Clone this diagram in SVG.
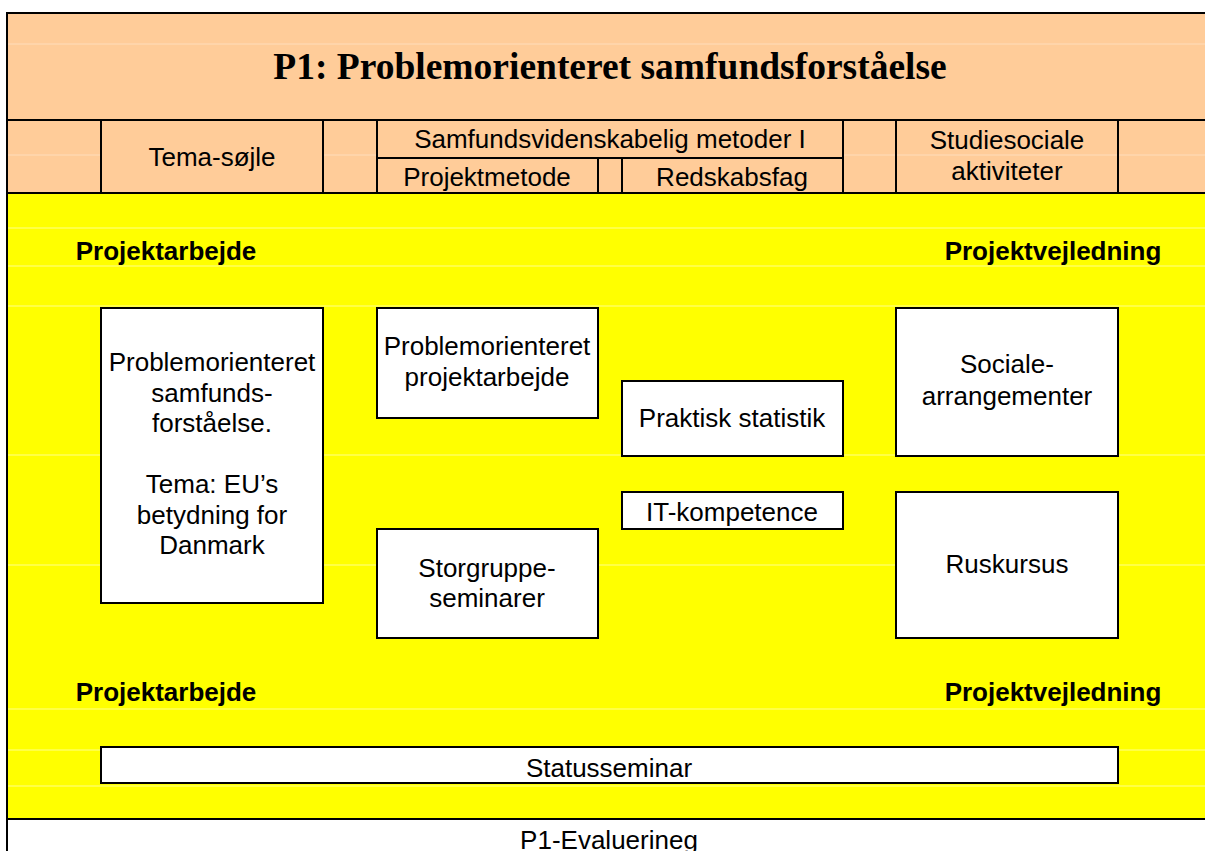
<svg xmlns="http://www.w3.org/2000/svg" width="1205" height="851" viewBox="0 0 1205 851">
<style>
.t{font-family:"Liberation Sans",Arial,sans-serif;font-size:26px;fill:#000;text-anchor:middle}
.b{font-family:"Liberation Sans",Arial,sans-serif;font-size:26px;font-weight:bold;fill:#000;text-anchor:middle}
.title{font-family:"Liberation Serif","Times New Roman",serif;font-size:37.5px;font-weight:bold;fill:#000;text-anchor:middle}
.box{fill:#fff;stroke:#000;stroke-width:2}
.ln{stroke:#000;stroke-width:2;fill:none}
.gp{stroke:#FFDDBB;stroke-width:1}
.gy{stroke:#FFFF8C;stroke-width:1}
</style>
<rect x="0" y="0" width="1205" height="851" fill="#fff"/>
<g id="background">
<rect x="7" y="13" width="1198" height="181" fill="#FFCC99"/>
<rect x="7" y="194" width="1198" height="625" fill="#FFFF00"/>
<line class="gp" x1="8" y1="44" x2="1205" y2="44"/>
<line class="gp" x1="8" y1="155" x2="101" y2="155"/>
<line class="gp" x1="323" y1="155" x2="377" y2="155"/>
<line class="gp" x1="843" y1="155" x2="1205" y2="155"/>
<line class="gy" x1="8" y1="228" x2="1205" y2="228"/>
<line class="gy" x1="8" y1="266" x2="1205" y2="266"/>
<line class="gy" x1="8" y1="306" x2="1205" y2="306"/>
<line class="gy" x1="8" y1="455" x2="1205" y2="455"/>
<line class="gy" x1="8" y1="565" x2="1205" y2="565"/>
<line class="gy" x1="8" y1="709" x2="1205" y2="709"/>
<line class="gy" x1="8" y1="750" x2="1205" y2="750"/>
<line class="gy" x1="8" y1="786" x2="1205" y2="786"/>
</g>
<g id="frame">
<line class="ln" x1="7" y1="13" x2="7" y2="851"/>
<line class="ln" x1="6" y1="13" x2="1205" y2="13"/>
<line class="ln" x1="7" y1="120" x2="1205" y2="120"/>
<line class="ln" x1="7" y1="193" x2="1205" y2="193"/>
<line class="ln" x1="7" y1="819" x2="1205" y2="819"/>
<line class="ln" x1="101" y1="120" x2="101" y2="194"/>
<line class="ln" x1="323" y1="120" x2="323" y2="194"/>
<line class="ln" x1="377" y1="120" x2="377" y2="194"/>
<line class="ln" x1="843" y1="120" x2="843" y2="194"/>
<line class="ln" x1="896" y1="120" x2="896" y2="194"/>
<line class="ln" x1="1118" y1="120" x2="1118" y2="194"/>
<line class="ln" x1="377" y1="158" x2="843" y2="158"/>
<line class="ln" x1="598" y1="158" x2="598" y2="194"/>
<line class="ln" x1="622" y1="158" x2="622" y2="194"/>
</g>
<g id="title"><text class="title" x="610" y="79">P1: Problemorienteret samfundsforståelse</text></g>
<g id="header-tema"><text class="t" x="212" y="166">Tema-søjle</text></g>
<g id="header-metoder"><text class="t" x="610" y="148">Samfundsvidenskabelig metoder I</text></g>
<g id="header-projektmetode"><text class="t" x="487" y="186">Projektmetode</text></g>
<g id="header-redskabsfag"><text class="t" x="732" y="186">Redskabsfag</text></g>
<g id="header-studiesociale"><text class="t" x="1007" y="149">Studiesociale</text><text class="t" x="1007" y="180">aktiviteter</text></g>
<g id="label-projektarbejde-1"><text class="b" x="166" y="260">Projektarbejde</text></g>
<g id="label-projektvejledning-1"><text class="b" x="1053" y="260">Projektvejledning</text></g>
<g id="label-projektarbejde-2"><text class="b" x="166" y="701">Projektarbejde</text></g>
<g id="label-projektvejledning-2"><text class="b" x="1053" y="701">Projektvejledning</text></g>
<g id="node-samfundsforstaaelse">
<rect class="box" x="101" y="308" width="222" height="295"/>
<text class="t" x="212" y="371">Problemorienteret</text>
<text class="t" x="212" y="401.5">samfunds-</text>
<text class="t" x="212" y="432">forståelse.</text>
<text class="t" x="212" y="493">Tema: EU’s</text>
<text class="t" x="212" y="523.5">betydning for</text>
<text class="t" x="212" y="554">Danmark</text>
</g>
<g id="node-projektarbejde">
<rect class="box" x="377" y="308" width="221" height="110"/>
<text class="t" x="487" y="355">Problemorienteret</text>
<text class="t" x="487" y="386">projektarbejde</text>
</g>
<g id="node-storgruppe">
<rect class="box" x="377" y="529" width="221" height="109"/>
<text class="t" x="487" y="577">Storgruppe-</text>
<text class="t" x="487" y="607">seminarer</text>
</g>
<g id="node-statistik">
<rect class="box" x="622" y="381" width="221" height="75"/>
<text class="t" x="732" y="427">Praktisk statistik</text>
</g>
<g id="node-it">
<rect class="box" x="622" y="492" width="221" height="37"/>
<text class="t" x="732" y="521">IT-kompetence</text>
</g>
<g id="node-sociale">
<rect class="box" x="896" y="308" width="222" height="148"/>
<text class="t" x="1007" y="373">Sociale-</text>
<text class="t" x="1007" y="405">arrangementer</text>
</g>
<g id="node-ruskursus">
<rect class="box" x="896" y="492" width="222" height="146"/>
<text class="t" x="1007" y="573">Ruskursus</text>
</g>
<g id="node-statusseminar">
<rect class="box" x="101" y="747" width="1017" height="36"/>
<text class="t" x="609" y="777">Statusseminar</text>
</g>
<g id="node-evaluering"><text class="t" x="609" y="849">P1-Evaluerineg</text></g>
<g id="connectors"></g>
</svg>
